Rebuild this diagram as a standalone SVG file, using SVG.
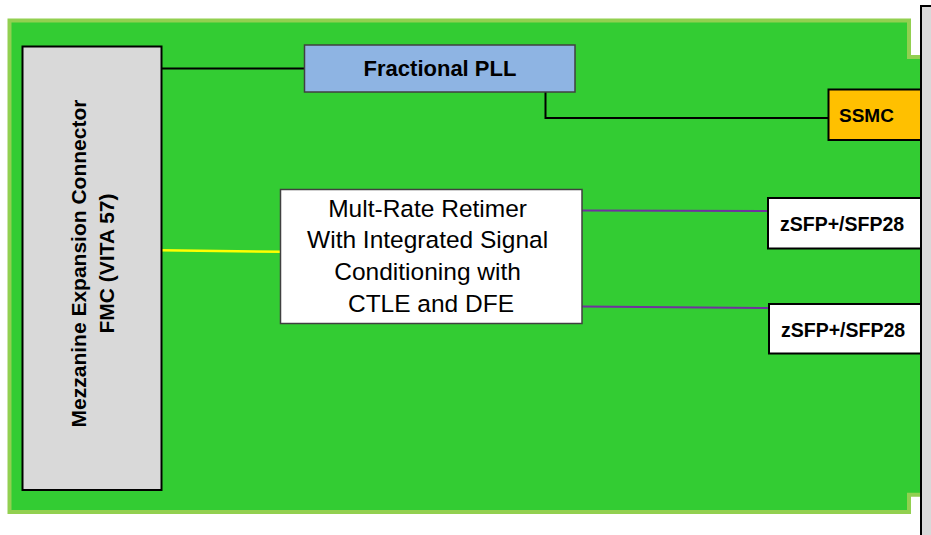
<svg xmlns="http://www.w3.org/2000/svg" width="931" height="535" viewBox="0 0 931 535">
<style>
.b{font-family:"Liberation Sans",Arial,sans-serif;font-weight:bold;fill:#000}
.r{font-family:"Liberation Sans",Arial,sans-serif;fill:#000}
.blk{stroke:#000;stroke-width:2;fill:none}
.pur{stroke:#7030a0;stroke-width:2;fill:none}
</style>
<rect width="931" height="535" fill="#fff"/>
<g id="board">
<path d="M9.5,20.5 H909 V57 H923 V494.7 H909 V512 H9.5 Z" fill="#33cc33" stroke="#92d050" stroke-width="4"/>
</g>
<g id="connectors">
<path class="blk" d="M161,68.5 H305"/>
<path class="blk" d="M545.5,92 V118 H829"/>
<path d="M161,250.3 L281,251.7" stroke="#ffff00" stroke-width="2.5" fill="none"/>
<path class="pur" d="M581,210.5 L768,211"/>
<path class="pur" d="M581,306.5 L769,308"/>
</g>
<g id="mezzanine">
<rect x="22.5" y="46.5" width="139" height="443.5" fill="#d9d9d9" stroke="#000" stroke-width="2"/>
<text class="b" font-size="21" text-anchor="middle" transform="translate(86,263.5) rotate(-90)">Mezzanine Expansion Connector</text>
<text class="b" font-size="21" text-anchor="middle" transform="translate(114,263.5) rotate(-90)">FMC (VITA 57)</text>
</g>
<g id="pll">
<rect x="304.5" y="45" width="270.5" height="47" fill="#8eb4e3" stroke="#404040" stroke-width="1.5"/>
<text class="b" font-size="22" x="440" y="75.5" text-anchor="middle">Fractional PLL</text>
</g>
<g id="ssmc">
<rect x="828.5" y="89.5" width="100" height="50.5" fill="#ffc000" stroke="#000" stroke-width="2"/>
<text class="b" font-size="19" x="839" y="121.5">SSMC</text>
</g>
<g id="retimer">
<rect x="280.5" y="189.5" width="301.5" height="134" fill="#fff" stroke="#404040" stroke-width="1.5"/>
<text class="r" font-size="24.5" text-anchor="middle">
<tspan x="431" y="216.5">Mult-Rate Retimer</tspan>
<tspan x="431" y="248.3">With Integrated Signal</tspan>
<tspan x="431" y="280">Conditioning with</tspan>
<tspan x="431" y="311.8">CTLE and DFE</tspan>
</text>
</g>
<g id="sfp1">
<rect x="768" y="198" width="160" height="50.5" fill="#fff" stroke="#000" stroke-width="2"/>
<text class="b" font-size="19.5" x="780" y="231">zSFP+/SFP28</text>
</g>
<g id="sfp2">
<rect x="769" y="304" width="160" height="49.5" fill="#fff" stroke="#000" stroke-width="2"/>
<text class="b" font-size="19.5" x="781" y="336.5">zSFP+/SFP28</text>
</g>
<g id="panel">
<rect x="921" y="6" width="20" height="540" fill="#d9d9d9" stroke="#000" stroke-width="2"/>
</g>
</svg>
